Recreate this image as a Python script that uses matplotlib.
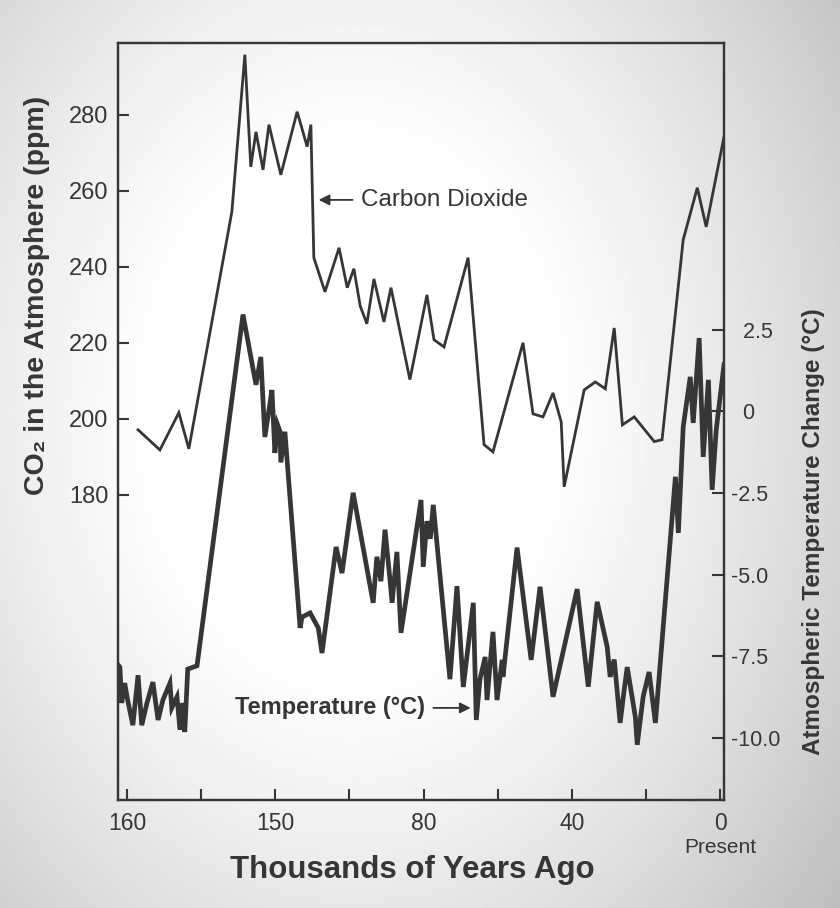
import numpy as np
import matplotlib.pyplot as plt

# thousands of years ago / CO2 (ppm)
co2_age = [157.0, 151.1, 146.0, 143.3, 131.7, 128.2, 126.6, 125.2, 123.3, 121.7,
           118.5, 114.1, 111.4, 110.4, 109.6, 106.6, 102.8, 100.6, 98.8, 97.1,
           95.3, 93.4, 90.7, 88.8, 83.7, 79.1, 77.2, 74.5, 68.0, 63.7,
           61.3, 53.2, 50.5, 47.8, 45.1, 42.9, 42.1, 36.7, 33.7, 31.0,
           28.6, 26.4, 23.2, 17.8, 15.7, 10.0, 6.2, 3.8, -1.0]
co2_ppm = [197.1, 191.8, 201.6, 192.1, 254.5, 295.8, 266.3, 275.5, 265.5, 277.4,
           264.2, 280.8, 271.6, 277.4, 242.4, 233.4, 245.0, 234.5, 239.5, 229.7,
           225.0, 236.8, 225.5, 234.5, 210.3, 232.6, 220.8, 218.9, 242.4, 193.2,
           191.3, 220.0, 201.3, 200.5, 206.8, 199.2, 182.1, 207.6, 209.7, 207.9,
           223.9, 198.4, 200.5, 194.0, 194.5, 247.1, 260.8, 250.5, 274.2]

# thousands of years ago / temperature change (deg C)
temp_age = [162.4, 161.9, 161.4, 160.6, 159.8, 158.4, 157.0, 156.0, 154.6, 153.0,
            151.6, 150.3, 148.4, 147.9, 146.5, 145.7, 144.9, 144.4, 143.6, 141.1,
            128.7, 125.2, 123.9, 122.8, 121.5, 120.9, 120.1, 119.4, 118.7, 118.5,
            117.4, 113.3, 112.8, 110.6, 108.4, 107.4, 103.6, 102.0, 99.0, 93.6,
            92.6, 91.5, 90.4, 89.2, 88.5, 87.2, 86.1, 80.7, 80.1, 79.1,
            78.2, 77.4, 72.9, 71.0, 69.3, 66.6, 65.8, 64.8, 63.4, 62.9,
            61.3, 60.2, 58.8, 58.6, 54.8, 51.0, 48.6, 45.1, 38.6, 35.6,
            33.2, 30.5, 29.7, 28.6, 27.0, 26.0, 25.1, 22.9, 22.4, 20.8,
            19.2, 17.5, 12.1, 11.3, 10.0, 8.1, 7.3, 5.7, 4.6, 3.2,
            2.2, 1.1, -1.0]
temp_c = [-7.76, -7.83, -8.93, -8.32, -8.84, -9.61, -8.08, -9.61, -8.93, -8.29,
          -9.45, -8.84, -8.32, -9.08, -8.74, -9.75, -8.93, -9.82, -7.89, -7.79,
          2.97, 0.82, 1.67, -0.78, 0.20, 0.66, -1.27, -0.40, -0.62, -1.56,
          -0.62, -6.63, -6.30, -6.17, -6.63, -7.40, -4.15, -4.95, -2.49, -5.86,
          -4.45, -5.20, -3.62, -5.00, -5.86, -4.30, -6.78, -2.71, -4.76, -3.36,
          -3.90, -2.86, -8.20, -5.35, -8.44, -5.86, -9.45, -8.20, -7.52, -8.84,
          -6.75, -8.84, -7.61, -8.13, -4.17, -7.61, -5.37, -8.74, -5.44, -8.43,
          -5.83, -7.21, -8.13, -7.60, -9.54, -8.60, -7.83, -9.36, -10.21, -8.74,
          -7.98, -9.54, -2.00, -3.72, -0.47, 1.06, -0.35, 2.25, -1.39, 0.97,
          -2.40, -0.56, 1.43]

xticks = [160, 140, 120, 100, 80, 60, 40, 20, 0]
xtick_labels = ['160', '', '150', '', '80', '', '40', '', '0']
co2_ticks = [180, 200, 220, 240, 260, 280]
temp_ticks = [2.5, 0, -2.5, -5.0, -7.5, -10.0]
temp_tick_labels = ['  2.5', '  0', '-2.5', '-5.0', '-7.5', '-10.0']

ink = '#363636'
plt.rcParams['font.family'] = ['Liberation Sans', 'DejaVu Sans']

fig = plt.figure(figsize=(8.4, 9.08), dpi=100)

# scanned-photo background: bright centre, grey edges
bg = fig.add_axes([0, 0, 1, 1], zorder=-5)
gy, gx = np.mgrid[0:1:300j, 0:1:300j]
r = np.sqrt(((gx - 0.42) / 0.62) ** 2 + ((gy - 0.45) / 0.75) ** 2)
shade = np.clip(1.0 - 0.32 * np.clip(r - 0.35, 0, None) ** 1.3, 0.68, 1.0)
bg.imshow(shade, cmap='gray', vmin=0, vmax=1, extent=[0, 1, 0, 1],
          aspect='auto', origin='upper')
bg.axis('off')

ax = fig.add_axes([0.1405, 0.119, 0.7214, 0.8337])
ax.patch.set_alpha(0)
ax2 = ax.twinx()

ax.plot(co2_age, co2_ppm, color=ink, lw=2.0, solid_joinstyle='miter')
ax2.plot(temp_age, temp_c, color=ink, lw=3.4, solid_joinstyle='miter')

ax.set_xlim(162.4, -1.0)
ax.set_ylim(99.7, 298.9)
ax2.set_ylim(-11.9, 11.29)

ax.set_xticks(xticks)
ax.set_xticklabels(xtick_labels)
ax.set_yticks(co2_ticks)
ax2.set_yticks(temp_ticks)
ax2.set_yticklabels(temp_tick_labels)

ax.tick_params(axis='x', direction='in', length=8, width=1.5, colors=ink,
               labelsize=16.5, pad=9)
ax.tick_params(axis='y', direction='in', length=8, width=1.5, colors=ink,
               labelsize=17, pad=7)
ax2.tick_params(axis='y', direction='in', length=9, width=1.5, colors=ink,
                labelsize=15.5, pad=5)
for a in (ax, ax2):
    for s in a.spines.values():
        s.set_linewidth(1.6)
        s.set_color(ink)

ax.set_ylabel('CO₂ in the Atmosphere (ppm)', fontsize=20.5, fontweight='bold',
              color=ink)
ax.yaxis.set_label_coords(-0.112, 0.667)
ax2.set_ylabel('Atmospheric Temperature Change (°C)', fontsize=17.5,
               fontweight='bold', color=ink)
ax2.yaxis.set_label_coords(1.128, 0.355)
ax.set_xlabel('Thousands of Years Ago', fontsize=22.5, fontweight='bold',
              color=ink, labelpad=14)
ax.xaxis.label.set_x(0.485)
ax.text(0.0, 99.7 - 10.0, 'Present', ha='center', va='top',
        fontsize=15, color=ink)

ax.annotate('Carbon Dioxide', xy=(108.3, 257.6), xytext=(96.9, 257.6),
            ha='left', va='center', fontsize=17.5, color=ink,
            arrowprops=dict(arrowstyle='-|>', color=ink, lw=1.3,
                            mutation_scale=16, shrinkA=4, shrinkB=0))
ax2.annotate('Temperature (°C)', xy=(67.3, -9.08), xytext=(79.6, -9.08),
             ha='right', va='center', fontsize=17, fontweight='bold', color=ink,
             arrowprops=dict(arrowstyle='-|>', color=ink, lw=1.3,
                             mutation_scale=16, shrinkA=4, shrinkB=0))

fig.savefig('out.png', dpi=100)
